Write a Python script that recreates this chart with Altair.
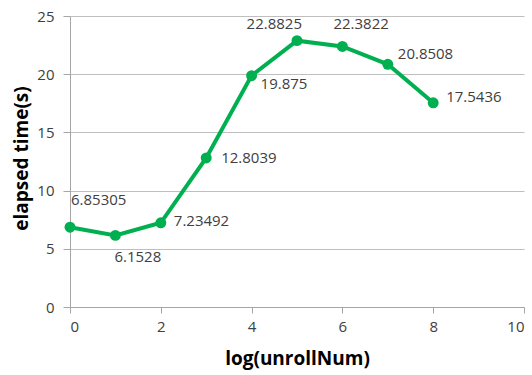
import altair as alt
import pandas as pd

log_unroll = [0, 1, 2, 3, 4, 5, 6, 7, 8]
elapsed = [6.85305, 6.1528, 7.23492, 12.8039, 19.875, 22.8825, 22.3822, 20.8508, 17.5436]
x_ticks = [0, 2, 4, 6, 8, 10]
y_ticks = [0, 5, 10, 15, 20, 25]

df = pd.DataFrame({"x": log_unroll, "y": elapsed, "i": list(range(len(log_unroll)))})

GREEN = "#00b050"
FONT = "Open Sans"
TXT = "#404040"

xs = alt.X("x:Q", scale=alt.Scale(domain=[0, 10], nice=False),
           axis=alt.Axis(values=x_ticks, title="log(unrollNum)", grid=False,
                         titleX=227, titleY=51, titleBaseline="middle"))
ys = alt.Y("y:Q", scale=alt.Scale(domain=[0, 25], nice=False),
           axis=alt.Axis(values=y_ticks, title="elapsed time(s)",
                         titleX=-49, titleY=142, titleBaseline="middle"))

base = alt.Chart(df)
line = base.mark_line(color=GREEN, strokeWidth=4).encode(x=xs, y=ys)
pts = base.mark_circle(color=GREEN, size=120, opacity=1).encode(x="x:Q", y="y:Q")

placements = [
    (0, "left", 1, -27),
    (1, "left", -1, 22),
    (2, "left", 13, -2),
    (3, "left", 15, 0),
    (4, "left", 9, 8),
    (5, "right", 5, -17),
    (6, "left", -9, -22),
    (7, "left", 10, -10),
    (8, "left", 13, -6),
]
texts = []
for idx, al, dx, dy in placements:
    texts.append(
        base.transform_filter(alt.datum.i == idx)
        .mark_text(align=al, baseline="middle", dx=dx, dy=dy, font=FONT,
                   fontSize=15, color=TXT)
        .encode(x="x:Q", y="y:Q", text="y:N")
    )

chart = alt.layer(line, pts, *texts).properties(
    width=454, height=291,
    autosize=alt.AutoSizeParams(type="none"),
    padding={"left": 70, "top": 16, "right": 8, "bottom": 68},
).configure_view(stroke=None).configure_axis(
    labelFont=FONT, labelFontSize=15, labelColor=TXT,
    titleFont=FONT, titleFontSize=19, titleFontWeight="bold", titleColor="#000000",
    domainColor="#a6a6a6", tickColor="#a6a6a6", gridColor="#bfbfbf",
    domainWidth=1, tickWidth=1, gridWidth=1,
    tickSize=6, labelPadding=6,
).configure_axisY(labelPadding=9, tickSize=7)

chart.save("out.html", embed_options={"renderer": "svg", "actions": False})
